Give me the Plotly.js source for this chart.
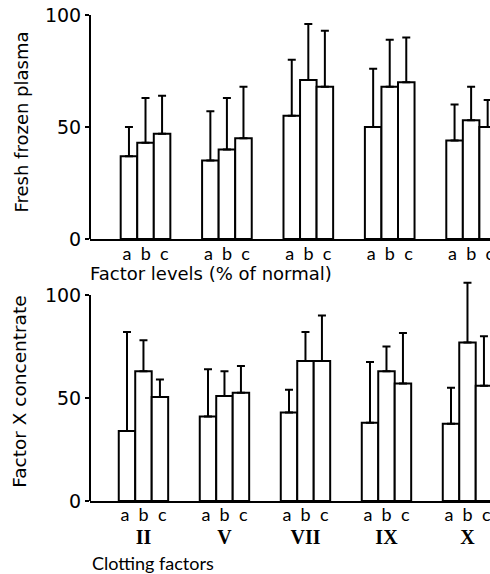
<!DOCTYPE html>
<html>
<head>
<meta charset="utf-8">
<script src="https://cdn.plot.ly/plotly-3.0.1.min.js"></script>
<style>html,body{margin:0;padding:0;background:#fff;}#chart{width:490px;height:574px;}</style>
</head>
<body>
<div id="chart"></div>
<script>
// Clotting factors (groups) and sub-levels
const factors = ['II', 'V', 'VII', 'IX', 'X'];
const levels = ['a', 'b', 'c'];

// Fresh frozen plasma: mean factor levels (% of normal) for a, b, c
const ffpA = [37, 35, 55, 50, 44];
const ffpB = [43, 40, 71, 68, 53];
const ffpC = [47, 45, 68, 70, 50];
// upward error bar lengths
const ffpErrA = [13, 22, 25, 26, 16];
const ffpErrB = [20, 23, 25, 21, 15];
const ffpErrC = [17, 23, 25, 20, 12];

// Factor X concentrate
const fxA = [34, 41, 43, 38, 37.5];
const fxB = [63, 51, 68, 63, 77];
const fxC = [50.5, 52.5, 68, 57, 56];
const fxErrA = [48, 23, 11, 29.5, 17.5];
const fxErrB = [15, 12, 14, 12, 29];
const fxErrC = [8.5, 13, 22, 24.5, 24];

const topTickText = factors.map(() => levels.join('  '));
const bottomTickText = factors.map(f =>
  levels.join('  ') + '<br><span style="font-family:\'Liberation Serif\';font-weight:bold;font-size:20px">' + f + '</span>');

const SANS = 'Lato, "DejaVu Sans", sans-serif';
const DJ = '"DejaVu Sans", sans-serif';

function barTrace(y, err, xa, ya) {
  return {
    type: 'bar', x: factors, y: y, xaxis: xa, yaxis: ya,
    marker: {color: '#ffffff', line: {color: '#000000', width: 2}},
    error_y: {type: 'data', symmetric: false, array: err, arrayminus: err.map(() => 0),
              color: '#000000', thickness: 2, width: 4},
    showlegend: false, hoverinfo: 'skip'
  };
}

const data = [
  barTrace(ffpA, ffpErrA, 'x', 'y'),
  barTrace(ffpB, ffpErrB, 'x', 'y'),
  barTrace(ffpC, ffpErrC, 'x', 'y'),
  barTrace(fxA, fxErrA, 'x2', 'y2'),
  barTrace(fxB, fxErrB, 'x2', 'y2'),
  barTrace(fxC, fxErrC, 'x2', 'y2')
];

const yTick = {tickvals: [0, 50, 100], ticktext: ['0', '50', '100'], ticks: 'outside', ticklen: 4,
  tickwidth: 2, tickcolor: '#000', showline: false, showgrid: false, zeroline: false,
  tickfont: {family: DJ, size: 19, color: '#000'}};

const layout = {
  width: 490, height: 574,
  margin: {l: 90, r: 0, t: 0, b: 0},
  paper_bgcolor: '#fff', plot_bgcolor: '#fff',
  barmode: 'group', bargap: 0.39, bargroupgap: 0,
  font: {family: SANS, color: '#000'},
  xaxis: {domain: [0, 1], anchor: 'y', type: 'category', range: [-0.682, 4.232],
    showline: true, linewidth: 2, linecolor: '#000', showgrid: false, ticks: '', ticklabelstandoff: -3,
    tickvals: factors, ticktext: topTickText, tickfont: {family: SANS, size: 18, color: '#000'}},
  yaxis: Object.assign({domain: [0.5836, 0.9934], anchor: 'x', range: [0, 105]}, yTick),
  xaxis2: {domain: [0, 1], anchor: 'y2', type: 'category', range: [-0.66, 4.278],
    showline: true, linewidth: 2, linecolor: '#000', showgrid: false, ticks: '', ticklabelstandoff: -4,
    tickvals: factors, ticktext: bottomTickText, tickfont: {family: SANS, size: 18, color: '#000'}},
  yaxis2: Object.assign({domain: [0.1272, 0.5291], anchor: 'x2', range: [0, 112]}, yTick),
  shapes: [
    {type: 'line', xref: 'paper', yref: 'y', x0: 0, x1: 0, y0: 0, y1: 100, line: {color: '#000', width: 2}},
    {type: 'line', xref: 'paper', yref: 'y2', x0: 0, x1: 0, y0: 0, y1: 100, line: {color: '#000', width: 2}}
  ],
  annotations: [
    {text: 'Fresh frozen plasma', xref: 'paper', yref: 'y', x: -0.17, y: 52, xanchor: 'center', yanchor: 'middle',
     textangle: -90, showarrow: false, font: {family: DJ, size: 18, color: '#000'}},
    {text: 'Factor X concentrate', xref: 'paper', yref: 'y2', x: -0.175, y: 53, xanchor: 'center', yanchor: 'middle',
     textangle: -90, showarrow: false, font: {family: DJ, size: 18.5, color: '#000'}},
    {text: 'Factor levels (% of normal)', xref: 'paper', yref: 'paper', x: -0.005, y: 1 - 273 / 574,
     xanchor: 'left', yanchor: 'middle', showarrow: false, font: {family: DJ, size: 18, color: '#000'}},
    {text: 'Clotting factors', xref: 'paper', yref: 'paper', x: 0, y: 1 - 563 / 574,
     xanchor: 'left', yanchor: 'middle', showarrow: false, font: {family: SANS, size: 18, color: '#000'}}
  ]
};

Plotly.newPlot('chart', data, layout, {staticPlot: true, displayModeBar: false});
</script>
</body>
</html>
